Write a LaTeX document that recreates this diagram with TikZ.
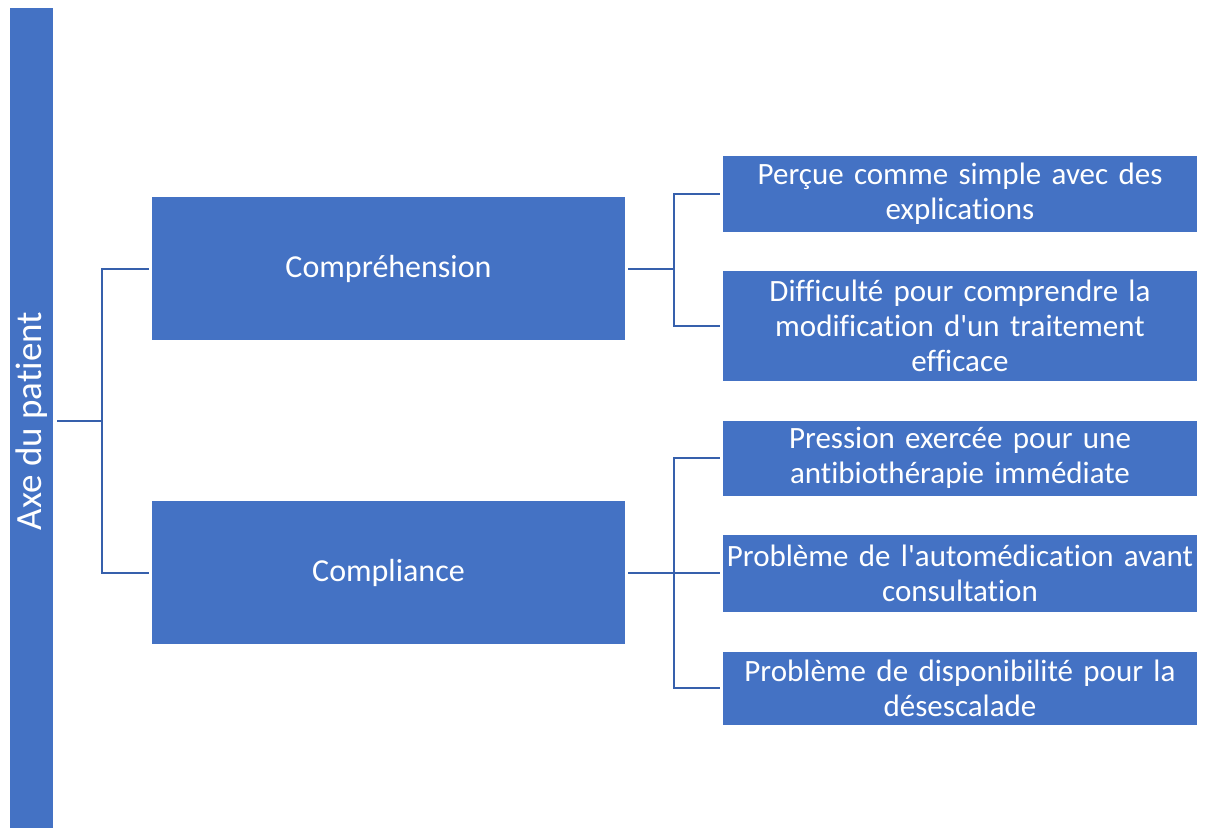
\documentclass[tikz,border=0pt]{standalone}
\usepackage{fontspec}
\setmainfont{Carlito}[Ligatures={NoCommon}]
\usepackage{xcolor}
\usepackage{tikz}
\usetikzlibrary{positioning}
\definecolor{boxblue}{HTML}{4472C4}
\definecolor{linkblue}{HTML}{3660AC}
\newcommand{\itemfont}{\fontsize{31}{35}\selectfont\spaceskip=0.21em\relax}
\tikzstyle{axisbar}=[fill=boxblue, text=white, minimum width=43pt, minimum height=826pt, inner sep=0pt]
\tikzstyle{theme}=[fill=boxblue, text=white, minimum width=473pt, minimum height=143pt, inner sep=0pt, font=\fontsize{32}{35}\selectfont]
\tikzstyle{item}=[fill=boxblue, text=white, text width=474pt, align=center, inner sep=0pt, font=\itemfont]
\tikzstyle{link}=[draw=linkblue, line width=2pt, shorten <=3pt, shorten >=3pt]

\begin{document}
\begin{tikzpicture}[x=1pt, y=-1pt]
      \useasboundingbox (0,0) rectangle (1207,827);
      \node [axisbar] (axe) at (31.5,421) {};
      \node [rotate=90, text=white, font=\fontsize{37}{40}\selectfont] (axe-label) at (axe.center) {Axe du patient};

      \node [theme] (comp) at (388.5,268.5) {Compréhension};
      \node [theme] (compl) at (388.5,572.5) {Compliance};

      \foreach \y/\h/\t [count=\i] in {194/76/{Perçue comme simple avec des\\explications},
          326/110/{Difficulté pour comprendre la\\modification d\textquotesingle un traitement\\efficace},
          458/75/{Pression exercée pour une\\antibiothérapie immédiate},
          573/77/{Problème de l\textquotesingle automédication avant\\consultation},
          688/73/{Problème de disponibilité pour la\\désescalade}}{
        \node [item, minimum height=\h pt] (item-\i) at (960,\y) {\t};
      }

      \draw [link, shorten <=4pt] (axe.east) -- ++(49,0) |- (comp.west);
      \draw [link, shorten <=4pt] (axe.east) -- ++(49,0) |- (compl.west);

      \foreach \i in {1,2}
        \draw [link] (comp.east) -- ++(49,0) |- (item-\i.west);
      \foreach \i in {3,4,5}
        \draw [link] (compl.east) -- ++(49,0) |- (item-\i.west);
    \end{tikzpicture}
\end{document}
